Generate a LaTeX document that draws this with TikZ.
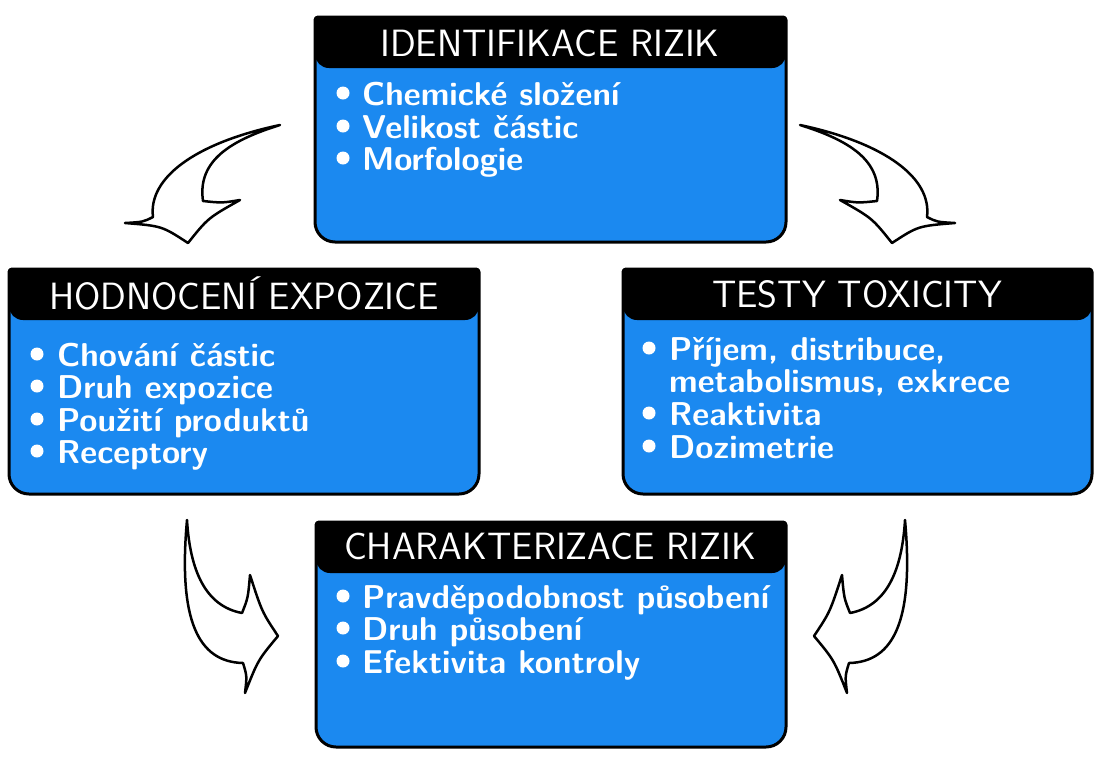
\documentclass[tikz,border=0pt]{standalone}
\definecolor{boxblue}{RGB}{27,137,240}
\newcommand\titlefont{\sffamily\fontsize{38}{44}\selectfont}
\newcommand\itemfont{\sffamily\bfseries\fontsize{33}{38}\selectfont}
\tikzset{
  boxline/.style={line width=3pt, draw=black, line join=round},
  arrowshape/.style={fill=white, draw=black, line width=2.5pt, line join=round},
  titletext/.style={text=white, font=\titlefont, anchor=base, inner sep=0pt},
  itemtext/.style={text=white, font=\itemfont, anchor=base west, inner sep=0pt},
  bulletdot/.style={fill=white}
}
% #1 x1, #2 y1, #3 x2, #4 y2, #5 header bottom
\newcommand\riskbox[5]{%
  \fill[boxblue] (#1,#2+3) arc (180:270:3) -- (#3-3,#2) arc (270:360:3)
     -- (#3,#4-20) arc (0:90:20) -- (#1+20,#4) arc (90:180:20) -- cycle;
  \fill[black] (#1,#2+3) arc (180:270:3) -- (#3-3,#2) arc (270:360:3)
     -- (#3,#5-14) arc (0:90:14) -- (#1+14,#5) arc (90:180:14) -- cycle;
  \draw[boxline] (#1,#2+3) arc (180:270:3) -- (#3-3,#2) arc (270:360:3)
     -- (#3,#4-20) arc (0:90:20) -- (#1+20,#4) arc (90:180:20) -- cycle;
}
\newcommand\bul[2]{\fill[bulletdot] (#1,#2-12) circle (6.5);}
\begin{document}
\begin{tikzpicture}[x=1pt,y=-1pt]
\useasboundingbox (0,0) rectangle (1102,756);

% boxes
\riskbox{315}{17}{786}{242}{68}
\riskbox{9}{269}{479}{494}{320}
\riskbox{623}{269}{1092}{494}{320}
\riskbox{316}{522}{786}{747}{573}

% titles
\node[titletext] (t1) at (550,56) {IDENTIFIKACE RIZIK};
\node[titletext] (t2) at (244,309) {HODNOCENÍ EXPOZICE};
\node[titletext] (t3) at (857,307) {TESTY TOXICITY};
\node[titletext] (t4) at (550,559) {CHARAKTERIZACE RIZIK};

% top items
\bul{343}{105}\bul{343}{138}\bul{343}{170}
\node[itemtext] (a1) at (362,105) {Chemické složení};
\node[itemtext] (a2) at (362,138) {Velikost částic};
\node[itemtext] (a3) at (362,170) {Morfologie};

% left items
\bul{37}{366}\bul{37}{398}\bul{37}{431}\bul{37}{463}
\node[itemtext] (b1) at (57,366) {Chování částic};
\node[itemtext] (b2) at (57,398) {Druh expozice};
\node[itemtext] (b3) at (57,431) {Použití produktů};
\node[itemtext] (b4) at (57,463) {Receptory};

% right items
\bul{649}{360}\bul{649}{425}\bul{649}{458}
\node[itemtext] (c1) at (669,360) {Příjem, distribuce,};
\node[itemtext] (c2) at (669,392) {metabolismus, exkrece};
\node[itemtext] (c3) at (669,425) {Reaktivita};
\node[itemtext] (c4) at (669,458) {Dozimetrie};

% bottom items
\bul{343}{608}\bul{343}{640}\bul{343}{673}
\node[itemtext] (d1) at (362,608) {Pravděpodobnost působení};
\node[itemtext] (d2) at (362,640) {Druh působení};
\node[itemtext] (d3) at (362,673) {Efektivita kontroly};

% arrows
\draw[arrowshape] (280,125) .. controls (195,143) and (148,178) .. (153,217)
  .. controls (143,222) .. (125,223)
  .. controls (162,226) .. (188,243)
  .. controls (208,218) .. (240,200)
  .. controls (222,203) .. (203,201)
  .. controls (197,160) and (232,140) .. (280,125) -- cycle;
\draw[arrowshape] (800,125) .. controls (885,143) and (932,178) .. (927,217)
  .. controls (937,222) .. (955,223)
  .. controls (918,226) .. (892,243)
  .. controls (872,218) .. (840,200)
  .. controls (858,203) .. (877,201)
  .. controls (883,160) and (848,140) .. (800,125) -- cycle;
\draw[arrowshape] (187,520) .. controls (178,620) and (198,662) .. (243,663)
  .. controls (247,676) .. (245,693)
  .. controls (258,660) .. (278,636)
  .. controls (262,612) .. (250,575)
  .. controls (248,598) .. (242,613)
  .. controls (205,606) and (190,570) .. (187,520) -- cycle;
\draw[arrowshape] (905,520) .. controls (914,620) and (894,662) .. (849,663)
  .. controls (845,676) .. (847,693)
  .. controls (834,660) .. (814,636)
  .. controls (830,612) .. (842,575)
  .. controls (844,598) .. (850,613)
  .. controls (887,606) and (902,570) .. (905,520) -- cycle;
\end{tikzpicture}
\end{document}
